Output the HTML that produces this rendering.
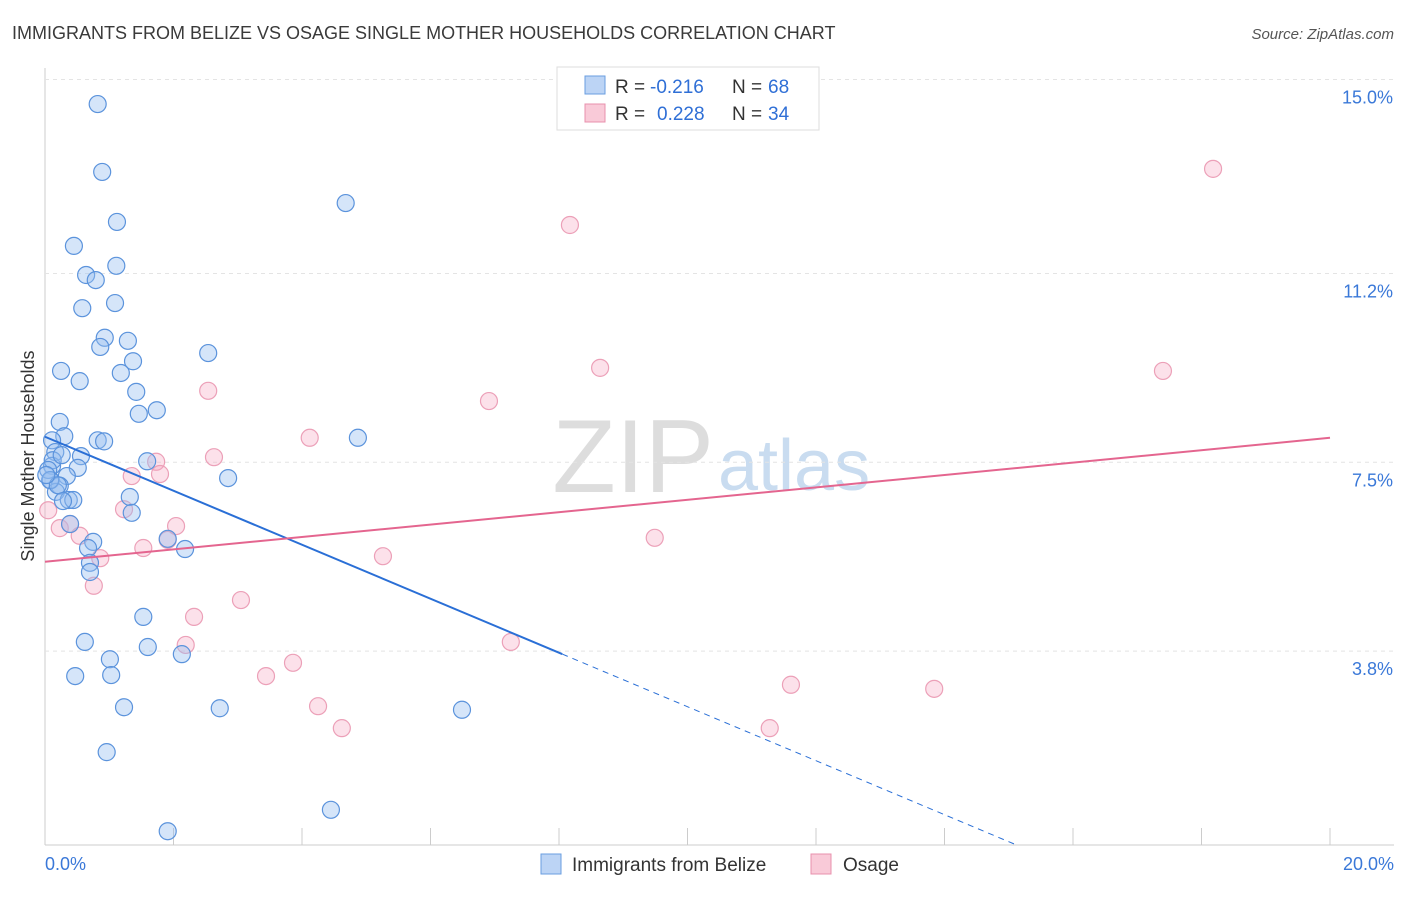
<!DOCTYPE html>
<html><head><meta charset="utf-8"><style>
body{margin:0;background:#fff;font-family:"Liberation Sans",sans-serif}
svg text{font-family:"Liberation Sans",sans-serif}
</style></head><body>
<svg id="c" width="1406" height="892">
<text x="12" y="39" font-size="18" fill="#3a3a3a">IMMIGRANTS FROM BELIZE VS OSAGE SINGLE MOTHER HOUSEHOLDS CORRELATION CHART</text>
<text x="1394" y="39" font-size="15" fill="#555" font-style="italic" text-anchor="end">Source: ZipAtlas.com</text>
<text x="714" y="492" font-size="104" fill="#ddd" font-family="Liberation Serif" text-anchor="end">ZIP</text>
<text x="718" y="490" font-size="72" fill="#c9dcf0">atlas</text>
<text x="34" y="456" font-size="18" fill="#333" text-anchor="middle" transform="rotate(-90 34 456)">Single Mother Households</text>
<g id="grid"></g><g id="pts"></g><g id="lines"></g>
<g>
<rect x="557" y="67" width="262" height="63" fill="#fff" stroke="#ddd"/>
<rect x="585" y="76" width="20" height="18" fill="#bcd4f5" stroke="#6a9ee0"/>
<rect x="585" y="104" width="20" height="18" fill="#f9cad8" stroke="#e890ad"/>
<text x="615" y="93" font-size="19" fill="#333">R =</text>
<text x="650" y="93" font-size="19" fill="#2f6fd6">-0.216</text>
<text x="732" y="93" font-size="19" fill="#333">N =</text>
<text x="768" y="93" font-size="19" fill="#2f6fd6">68</text>
<text x="615" y="120" font-size="19" fill="#333">R =</text>
<text x="657" y="120" font-size="19" fill="#2f6fd6">0.228</text>
<text x="732" y="120" font-size="19" fill="#333">N =</text>
<text x="768" y="120" font-size="19" fill="#2f6fd6">34</text>
</g>
<g>
<rect x="541" y="854" width="20" height="20" fill="#bcd4f5" stroke="#6a9ee0"/>
<text x="572" y="871" font-size="19" fill="#333">Immigrants from Belize</text>
<rect x="811" y="854" width="20" height="20" fill="#f9cad8" stroke="#e890ad"/>
<text x="843" y="871" font-size="19" fill="#333">Osage</text>
</g>
<text x="45" y="870" font-size="18" fill="#3a78d8">0.0%</text>
<text x="1394" y="870" font-size="18" fill="#3a78d8" text-anchor="end">20.0%</text>
</svg>
<script>
const yTicks=[3.8,7.5,11.2,15.0];
const yTickLabels=["3.8%","7.5%","11.2%","15.0%"];
const belizeX=[0.82,0.89,1.12,0.45,1.11,0.64,0.79,1.09,0.58,4.68,0.93,1.29,0.86,1.37,2.54,1.18,0.25,0.54,1.42,1.74,1.46,0.23,0.30,0.11,0.82,0.92,4.87,0.16,0.56,1.59,0.11,0.51,0.34,2.85,0.09,0.23,0.17,1.32,0.37,0.44,1.35,0.39,1.91,0.75,2.18,0.67,0.70,0.70,1.53,0.62,1.60,2.13,1.01,0.47,1.03,1.23,2.72,6.49,0.96,4.45,1.91,0.12,0.05,0.08,0.20,0.26,0.02,0.28];
const belizeY=[14.52,13.19,12.21,11.74,11.35,11.17,11.07,10.62,10.52,12.58,9.94,9.88,9.76,9.48,9.64,9.25,9.29,9.09,8.88,8.52,8.45,8.29,8.01,7.93,7.93,7.91,7.98,7.70,7.62,7.52,7.43,7.39,7.23,7.19,7.15,7.04,6.92,6.82,6.76,6.76,6.51,6.29,6.00,5.94,5.80,5.82,5.53,5.35,4.47,3.98,3.88,3.74,3.64,3.31,3.33,2.70,2.68,2.65,1.82,0.69,0.27,7.54,7.35,7.15,7.05,7.64,7.25,6.74];
const osageX=[18.18,8.17,8.64,17.40,2.54,6.91,4.12,2.63,1.73,1.35,1.79,1.23,2.04,0.23,0.39,0.54,1.91,1.53,0.86,5.26,9.49,0.76,2.32,3.05,2.19,7.25,3.86,3.44,11.61,13.84,4.25,4.62,11.28,0.05];
const osageY=[13.25,12.15,9.35,9.29,8.90,8.70,7.98,7.60,7.51,7.23,7.27,6.58,6.25,6.21,6.29,6.06,5.98,5.82,5.62,5.66,6.02,5.08,4.47,4.80,3.92,3.98,3.57,3.31,3.14,3.06,2.72,2.29,2.29,6.56];
const belizeTrend=[8.0,-0.529]; // intercept, slope
const osageTrend=[5.55,0.1215];
const xs=v=>45+v*64.25, ys=v=>845-v*51.03;
const NS='http://www.w3.org/2000/svg';
function mk(p,t,a){const e=document.createElementNS(NS,t);for(const k in a)e.setAttribute(k,a[k]);p.appendChild(e);return e;}
const grid=document.getElementById('grid');
let ax=mk(grid,'line',{x1:45,y1:68,x2:45,y2:845,stroke:'#ccc'});


let bx=mk(grid,'line',{x1:45,y1:845,x2:1394,y2:845,stroke:'#ccc'});


for(let i=0;i<=10;i++){const t=mk(grid,'line',{x1:xs(i*2),y1:845,x2:xs(i*2),y2:828,stroke:'#ccc'});

}
yTicks.forEach((v,i)=>{const l=mk(grid,'line',{x1:45,y1:ys(v),x2:1394,y2:ys(v),stroke:'#e4e4e4','stroke-dasharray':'4,4'});


const t=mk(grid,'text',{x:1393,y:ys(v)+24,'font-size':18,fill:'#3a78d8','text-anchor':'end'});


t.textContent=yTickLabels[i];});
const pts=document.getElementById('pts');
osageX.forEach((x,i)=>{const c=mk(pts,'circle',{cx:xs(x),cy:ys(osageY[i]),r:8.5,fill:'rgba(245,170,195,0.35)',stroke:'#eca0b8','stroke-width':1.2});

});
belizeX.forEach((x,i)=>{const c=mk(pts,'circle',{cx:xs(x),cy:ys(belizeY[i]),r:8.5,fill:'rgba(150,190,240,0.4)',stroke:'#5b93dc','stroke-width':1.2});

});
const lines=document.getElementById('lines');
const bf=x=>belizeTrend[0]+belizeTrend[1]*x, of=x=>osageTrend[0]+osageTrend[1]*x;
let l1=mk(lines,'line',{x1:xs(0),y1:ys(bf(0)),x2:xs(8.05),y2:ys(bf(8.05)),stroke:'#2a6fd6','stroke-width':2});


const xe=-belizeTrend[0]/belizeTrend[1];
let l2=mk(lines,'line',{x1:xs(8.05),y1:ys(bf(8.05)),x2:xs(xe),y2:ys(0),stroke:'#2a6fd6','stroke-width':1,'stroke-dasharray':'6,5'});


let l3=mk(lines,'line',{x1:xs(0),y1:ys(of(0)),x2:xs(20),y2:ys(of(20)),stroke:'#e4658f','stroke-width':2});


</script>
</body></html>
